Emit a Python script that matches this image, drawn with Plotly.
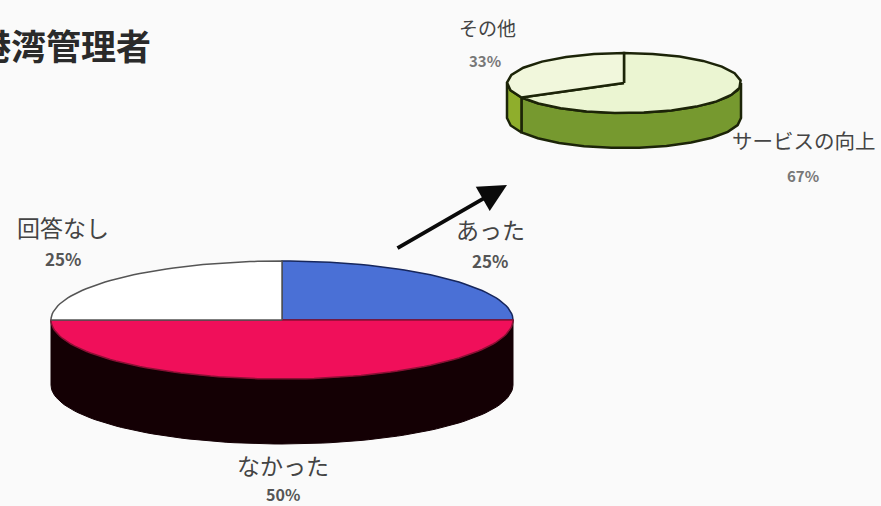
import numpy as np
import plotly.graph_objects as go

# --- data ---
main_labels = ["あった", "なかった", "回答なし"]
main_values = [25, 50, 25]
sub_labels = ["サービスの向上", "その他"]
sub_values = [67, 33]
title_text = "港湾管理者"

# --- styles / geometry ---
BG = "#fafafa"
W, H = 881, 506
main_geo = dict(cx=282, cy=320, rx=231, ry=59, depth=65, step=2)
sub_geo = dict(cx=624, cy=83, rx=117, ry=30, depth=35, step=14)
main_top = ["#4a70d6", "#f00f5a", "#ffffff"]
main_side = ["#140004", "#140004", "#140004"]
main_line = ["#16265c", "#8a1034", "#555555"]
main_side_line = ["#140004", "#140004", "#140004"]
sub_top = ["#ebf5d2", "#f1f7dc"]
sub_side = ["#76992f", "#8fae2c"]
sub_line = ["#1c2408", "#1c2408"]


def point(geo, deg):
    a = np.radians(deg)
    return geo["cx"] + geo["rx"] * np.sin(a), geo["cy"] - geo["ry"] * np.cos(a)


def arc(geo, a0, a1):
    n = max(2, int(round(abs(a1 - a0) / geo["step"])) + 1)
    return point(geo, np.linspace(a0, a1, n))


def draw_pie(fig, geo, values, top, side, line, side_line, lw, side_lw):
    total = sum(values)
    edges = np.cumsum([0] + list(values)) / total * 360
    for i in range(len(values)):
        a0, a1 = max(edges[i], 90), min(edges[i + 1], 270)
        if a1 <= a0:
            continue
        x, y = arc(geo, a0, a1)
        xs = list(x) + list(x[::-1]) + [x[0]]
        ys = list(y) + list(y[::-1] + geo["depth"]) + [y[0]]
        fig.add_trace(go.Scatter(x=xs, y=ys, mode="lines", fill="toself",
                                 fillcolor=side[i], line=dict(color=side_line[i], width=side_lw),
                                 hoverinfo="skip", showlegend=False))
    for i in range(len(values)):
        x, y = arc(geo, edges[i], edges[i + 1])
        xs = [geo["cx"]] + list(x) + [geo["cx"]]
        ys = [geo["cy"]] + list(y) + [geo["cy"]]
        fig.add_trace(go.Scatter(x=xs, y=ys, mode="lines", fill="toself",
                                 fillcolor=top[i], line=dict(color=line[i], width=lw),
                                 hoverinfo="skip", showlegend=False))


fig = go.Figure()
draw_pie(fig, main_geo, main_values, main_top, main_side, main_line, main_side_line, 1.5, 1)
draw_pie(fig, sub_geo, sub_values, sub_top, sub_side, sub_line, sub_line, 2.5, 2.5)

FONT = "Noto Sans CJK JP"


def label(x, y, text, size, color="#444444", weight="normal", **kw):
    fig.add_annotation(x=x, y=y, text=text, showarrow=False, xref="x", yref="y",
                       font=dict(family=FONT, size=size, color=color, weight=weight), **kw)


label(153, 44, title_text, 35, color="#2a2a2a", weight="bold", xanchor="right", yanchor="middle")
label(63, 227, main_labels[2], 23)
label(63, 258, f"{main_values[2]}%", 17, weight="bold", color="#555555")
label(490, 229, main_labels[0], 23)
label(490, 260, f"{main_values[0]}%", 17, weight="bold", color="#555555")
label(283, 465, main_labels[1], 23)
label(283, 494, f"{main_values[1]}%", 16, weight="bold", color="#555555")
label(487, 27, sub_labels[1], 19)
label(485, 60, f"{sub_values[1]}%", 15, weight="bold", color="#777777")
label(804, 140, sub_labels[0], 20.5)
label(803, 175, f"{sub_values[0]}%", 15, weight="bold", color="#777777")

fig.add_annotation(x=507, y=185, ax=396, ay=249, xref="x", yref="y", axref="x", ayref="y",
                   text="", showarrow=True, arrowhead=2, arrowsize=1.4, arrowwidth=4,
                   arrowcolor="#0a0a0a")

fig.update_layout(
    width=W, height=H, autosize=False, margin=dict(l=0, r=0, t=0, b=0),
    paper_bgcolor=BG, plot_bgcolor=BG, showlegend=False,
    xaxis=dict(range=[0, W], visible=False, fixedrange=True),
    yaxis=dict(range=[H, 0], visible=False, fixedrange=True),
)
fig.write_html("out.html", config={"displayModeBar": False},
               post_script="document.body.style.margin='0';document.body.style.overflow='hidden';document.body.style.background='#fafafa';")
